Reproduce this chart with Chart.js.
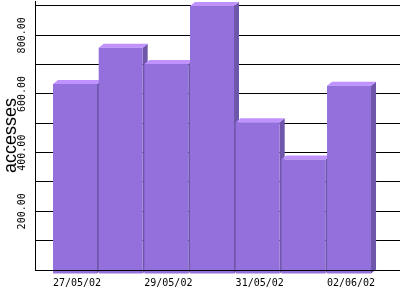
<!DOCTYPE html>
<html><head><meta charset="utf-8">
<script src="https://cdn.jsdelivr.net/npm/chart.js@4/dist/chart.umd.min.js"></script>
<style>html,body{margin:0;padding:0;background:#fff}canvas{display:block}</style>
</head><body>
<canvas id="c" width="400" height="300"></canvas>
<script>
const categories = ['27/05/02','28/05/02','29/05/02','30/05/02','31/05/02','01/06/02','02/06/02'];
const accesses = [634, 758, 702, 900, 504, 377, 628];
const yGridTicks = [0,100,200,300,400,500,600,700,800,900];
const yLabelTicks = [200,400,600,800];
const xLabelIndices = [0,2,4,6];

const FRONT = '#9370DB', TOP = '#C092FF', SIDE = '#6E56AA';
const DX = 5, DY = 4;

const bar3d = {
  id: 'bar3d',
  beforeDatasetsDraw(chart) {
    const ctx = chart.ctx;
    const meta = chart.getDatasetMeta(0);
    ctx.save();
    meta.data.forEach(el => {
      const {x, y, base, width} = el.getProps(['x','y','base','width'], true);
      const l = x - width/2, r = x + width/2;
      ctx.fillStyle = SIDE;
      ctx.beginPath();
      ctx.moveTo(r, y); ctx.lineTo(r+DX, y-DY); ctx.lineTo(r+DX, base-DY); ctx.lineTo(r, base);
      ctx.closePath(); ctx.fill();
      ctx.fillStyle = TOP;
      ctx.beginPath();
      ctx.moveTo(l, y); ctx.lineTo(l+DX, y-DY); ctx.lineTo(r+DX, y-DY); ctx.lineTo(r, y);
      ctx.closePath(); ctx.fill();
    });
    ctx.restore();
  },
  afterDatasetsDraw(chart) {
    const ctx = chart.ctx, a = chart.chartArea;
    const y0 = Math.round(chart.scales.y.getPixelForValue(0)) + 0.5;
    ctx.save();
    ctx.strokeStyle = '#000'; ctx.lineWidth = 1;
    ctx.beginPath(); ctx.moveTo(a.left, y0); ctx.lineTo(a.right, y0); ctx.stroke();
    ctx.restore();
  }
};

new Chart(document.getElementById('c'), {
  type: 'bar',
  data: {
    datasets: [{
      data: accesses.map((v, i) => ({x: i, y: v})),
      backgroundColor: FRONT,
      borderWidth: 0,
      barPercentage: 0.963,
      categoryPercentage: 1,
      base: -12,
      clip: false
    }]
  },
  options: {
    responsive: false,
    devicePixelRatio: 1,
    animation: false,
    layout: {padding: 0},
    plugins: {legend: {display: false}, tooltip: {enabled: false}},
    scales: {
      x: {
        type: 'linear',
        offset: false,
        min: -0.876, max: 7.116,
        grid: {display: false, offset: false},
        border: {display: false},
        afterBuildTicks: s => { s.ticks = xLabelIndices.map(v => ({value: v})); },
        afterFit: s => { s.height = 30; },
        ticks: {
          callback: v => categories[v],
          font: {family: 'DejaVu Sans Mono', size: 10},
          color: '#000',
          padding: -1,
          labelOffset: 2,
          maxRotation: 0,
          autoSkip: false
        }
      },
      y: {
        type: 'linear',
        min: 0, max: 917,
        afterBuildTicks: s => { s.ticks = yGridTicks.map(v => ({value: v})); },
        afterFit: s => { s.width = 35; },
        grid: {color: '#000', lineWidth: 1, drawTicks: false},
        border: {color: '#000', width: 1},
        ticks: {
          callback: v => yLabelTicks.includes(v) ? v.toFixed(2) : '',
          minRotation: 90, maxRotation: 90,
          crossAlign: 'center',
          padding: -5,
          autoSkip: false,
          font: {family: 'DejaVu Sans Mono', size: 10},
          color: '#000'
        },
        title: {
          display: true, text: 'accesses', color: '#000',
          font: {family: 'Liberation Sans', size: 18},
          padding: 0
        }
      }
    }
  },
  plugins: [bar3d]
});
</script>
</body></html>
